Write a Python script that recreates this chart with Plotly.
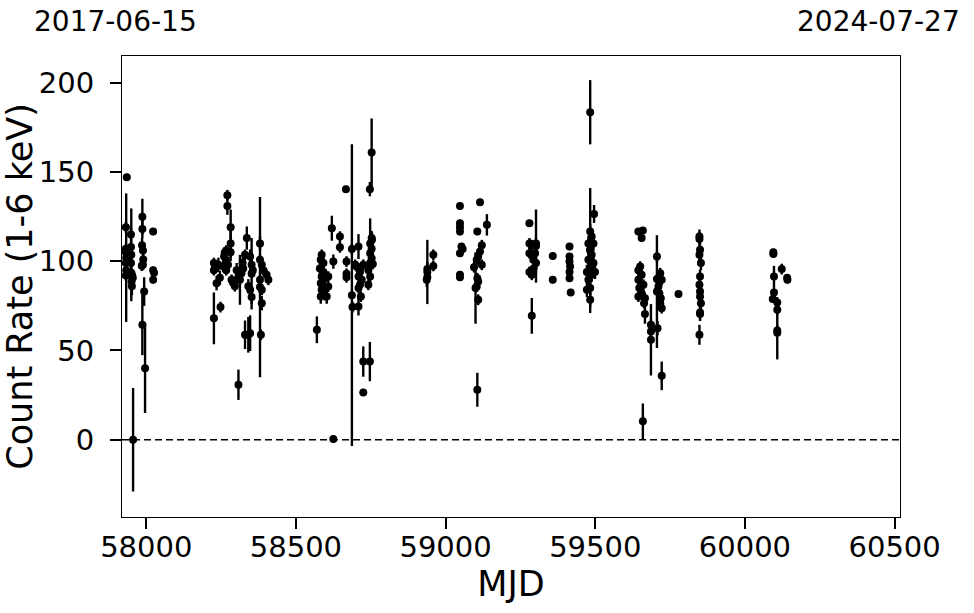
import plotly.graph_objects as go

# ---- data (MJD, count rate 1-6 keV, 1-sigma error), grouped by season ----
mjd_2017 = [57935, 57932, 57932, 57932, 57933, 57932, 57933, 57932,
            57949, 57949, 57950, 57949, 57950, 57951, 57952, 57955, 57953,
            57956,
            57987, 57987, 57986, 57989, 57990, 57989, 57985, 57993, 57987, 57996,
            58023, 58023, 58026, 58023]
rate_2017 = [147, 119, 107, 105, 102, 99, 95, 92,
             115, 108, 103.6, 99, 93.5, 88.6, 86, 90.7, 92,
             0,
             125, 118, 109, 106, 101, 98, 97.5, 83, 64.4, 40,
             116.6, 95, 93.5, 89.6]
err_2017 = [2, 3, 3, 3, 36, 3, 3, 3,
            4, 3, 26, 3, 3, 4, 5, 3, 3,
            29,
            10, 5, 4, 4, 4, 3, 3, 8, 17, 25,
            2, 2, 2, 2]

mjd_2018 = [58226, 58229, 58226, 58241, 58235, 58246, 58226, 58248,
            58271, 58271, 58282, 58282, 58282,
            58267, 58262, 58260, 58266, 58257, 58273, 58267, 58285, 58290, 58296,
            58302, 58308, 58313, 58318, 58324, 58322, 58336, 58330, 58347, 58352,
            58356, 58341, 58347, 58352, 58352,
            58330, 58341, 58347, 58308,
            58380, 58380, 58386, 58391, 58402, 58408, 58380, 58386, 58386, 58383, 58380]
rate_2018 = [99, 96, 95, 98, 87.7, 90.7, 68, 74.3,
             137, 131, 119, 110, 105,
             106, 104.7, 102.6, 100.8, 97, 98, 95, 89.6, 87.9, 86,
             95, 91.4, 89.6, 93.3, 96, 99, 113, 103.6, 102.6, 98,
             95, 86, 84, 80, 93,
             58.8, 58.8, 59.7, 30.8,
             110, 100.8, 98, 95, 92.4, 89.6, 89.6, 84, 76.5, 58.8, 85.5]
err_2018 = [3, 3, 3, 4, 4, 4, 14.5, 3,
            3, 5, 10, 8, 5,
            3, 3, 3, 3, 3, 3, 3, 3, 3, 3,
            4, 4, 14, 3, 3, 3, 6.5, 3, 4, 3,
            3, 4, 4, 4, 20,
            8, 10, 10, 8.5,
            4, 3, 3, 3, 3, 3, 3, 3, 4, 3, 50.5]

mjd_2019 = [58570,
            58586, 58583, 58592, 58580, 58592, 58586, 58597, 58583, 58592, 58586,
            58608, 58583, 58603, 58608, 58597,
            58620, 58625, 58647, 58647, 58667, 58669, 58669, 58669,
            58625,
            58687, 58687, 58689,
            58698, 58703, 58709, 58714, 58709, 58720, 58714, 58709, 58717, 58709,
            58725, 58725, 58725,
            58753, 58754, 58748, 58753, 58748, 58753, 58748, 58757, 58742, 58748,
            58742, 58747, 58753, 58747]
rate_2019 = [61.6,
             103.6, 100.8, 99, 96, 94, 91.4, 90.5, 87.7, 85.8, 84,
             85.8, 80.2, 80.2, 91.4, 84,
             118.5, 99.8, 113.8, 107.8, 140.4, 99.8, 93, 91,
             0.4,
             106.8, 81, 74.3,
             98, 97, 108.2, 94, 91.4, 89.6, 86.8, 85, 80.2, 74.6,
             98, 43.8, 26.5,
             113, 112, 110, 107, 104.5, 101.7, 99, 98.5, 95, 91.4,
             86.8, 140.4, 161, 43.8]
err_2019 = [7.5,
            3, 3, 3, 3, 3, 3, 3, 3, 3, 3,
            3, 4, 4, 3, 6,
            7, 4, 3, 3, 2, 3, 3, 3,
            2,
            3, 84.5, 3,
            3, 3, 7, 3, 3, 3, 3, 3, 3, 5,
            3, 8.5, 2,
            4, 4, 14, 4, 3, 3, 3, 3, 3, 3,
            3, 4, 19, 11]

mjd_2020 = [58939, 58939, 58937, 58959, 58959, 58939,
            59048, 59048, 59048, 59048, 59053, 59057, 59048, 59048, 59048,
            59115, 59106, 59138, 59121, 59115, 59109, 59121, 59095, 59104, 59106,
            59109, 59104, 59109, 59100, 59106]
rate_2020 = [95.6, 91, 89.6, 103.6, 97.4, 94,
             131, 121.3, 119, 116.6, 108.2, 106.8, 104.5, 91, 92.4,
             133, 116.6, 120.4, 109, 105.4, 102.6, 98, 96.7, 100.8, 90.5,
             88.6, 85.8, 78.4, 85, 28]
err_2020 = [4, 4, 4, 3, 3, 18,
            2, 2, 2, 2, 2, 2, 2, 2, 2,
            2, 2, 6, 3, 3, 3, 3, 3, 3, 3,
            3, 3, 3, 20, 9.5]

mjd_2021 = [59280, 59280, 59288, 59302, 59280, 59299, 59293, 59302, 59294, 59280,
            59288, 59293, 59302, 59288,
            59358, 59358,
            59414, 59414, 59414, 59416, 59414, 59414, 59418,
            59483, 59483, 59496, 59483, 59488, 59477, 59494, 59483, 59488, 59477,
            59494, 59483, 59472, 59499, 59488, 59477, 59483, 59472, 59483]
rate_2021 = [121.3, 110, 109, 110, 104.5, 104.5, 100.8, 99, 96, 94,
             92.4, 94, 108.5, 69.4,
             103, 89.6,
             108.2, 102.6, 99.8, 97, 94, 90.5, 82.5,
             183.5, 106, 126.5, 116.6, 113.8, 110, 110, 106.4, 103.6, 100.8,
             99, 96, 94, 94, 92.4, 89.6, 85, 84, 78.4]
err_2021 = [2, 3, 3, 3, 3, 3, 3, 3, 3, 3,
            3, 3, 20.5, 10,
            2, 2,
            2, 2, 2, 2, 2, 2, 2,
            18, 35, 5, 4, 4, 4, 4, 4, 4, 4,
            4, 4, 4, 4, 4, 4, 4, 4, 4]

mjd_2022 = [59644, 59659, 59655,
            59650, 59644, 59655, 59644, 59661, 59647, 59655, 59666, 59644, 59663, 59666,
            59686, 59686, 59686,
            59659,
            59706, 59706, 59717, 59711, 59722, 59714, 59719, 59717, 59722, 59706, 59708, 59722,
            59778,
            59848, 59848, 59850, 59848, 59853, 59850, 59848, 59850, 59850, 59853, 59850,
            59850, 59848]
rate_2022 = [116.6, 117.2, 113,
             97, 95, 92.4, 89.6, 86.8, 85, 82, 79.3, 80.2, 76.5, 70.5,
             64.4, 60.6, 56,
             10.3,
             102.6, 90, 93.3, 85.8, 89.6, 82, 79.3, 76.5, 73.7, 83, 62.5, 35.8,
             81.7,
             113.8, 112.4, 106.4, 103.6, 99, 91.4, 86.8, 83, 80.2, 76.5, 71.3,
             70.5, 58.8]
err_2022 = [2, 2, 2,
            3, 3, 3, 3, 3, 3, 3, 3, 3, 3, 5.5,
            3, 3, 20,
            10,
            3, 3, 3, 3, 3, 3, 3, 3, 3, 31.6, 4, 8,
            2,
            4, 4, 4, 4, 4, 4, 4, 4, 4, 4, 4,
            4, 5.6]

mjd_2023 = [60095, 60095, 60123, 60097, 60142, 60141, 60097, 60093, 60108, 60108,
            60108, 60108]
rate_2023 = [105, 104, 95.6, 91.4, 89.6, 90.7, 82.5, 78.8, 76.9, 72.8,
             61.2, 60]
err_2023 = [2, 2, 3, 6, 2, 2, 3, 2, 3, 3,
            3, 15]

x_range = [57919, 60518]          # 2017-06-15 .. 2024-07-27
y_range = [-43.3, 215.0]
x_ticks = [58000, 58500, 59000, 59500, 60000, 60500]
y_ticks = [0, 50, 100, 150, 200]
start_label = "2017-06-15"
end_label = "2024-07-27"

mjd = mjd_2017 + mjd_2018 + mjd_2019 + mjd_2020 + mjd_2021 + mjd_2022 + mjd_2023
rate = rate_2017 + rate_2018 + rate_2019 + rate_2020 + rate_2021 + rate_2022 + rate_2023
err = err_2017 + err_2018 + err_2019 + err_2020 + err_2021 + err_2022 + err_2023

FONT = "DejaVu Sans"

fig = go.Figure()
fig.add_trace(go.Scatter(
    x=mjd, y=rate, mode="markers",
    marker=dict(color="black", size=8),
    error_y=dict(type="data", array=err, visible=True, color="black",
                 thickness=2.4, width=0),
    showlegend=False,
))

fig.add_shape(type="line", xref="paper", yref="y", x0=0, x1=1, y0=0, y1=0,
              line=dict(color="black", width=1.5, dash="7px,4px"))

fig.add_annotation(text=start_label, xref="paper", yref="paper",
                   x=(32 - 122) / 778, y=(517 - 22) / 461,
                   xanchor="left", yanchor="middle", showarrow=False,
                   font=dict(family=FONT, size=28, color="black"))
fig.add_annotation(text=end_label, xref="paper", yref="paper",
                   x=(962 - 122) / 778, y=(517 - 22) / 461,
                   xanchor="right", yanchor="middle", showarrow=False,
                   font=dict(family=FONT, size=28, color="black"))

axis_common = dict(
    showgrid=False, zeroline=False, showline=True, linecolor="black",
    linewidth=1, mirror=True, ticks="outside", ticklen=11, tickwidth=2,
    tickcolor="black", tickfont=dict(family=FONT, size=29, color="black"),
    automargin=False,
)

fig.update_layout(
    width=974, height=613,
    margin=dict(l=122, r=74, t=56, b=96),
    paper_bgcolor="white", plot_bgcolor="white",
    font=dict(family=FONT, color="black"),
    xaxis=dict(range=x_range, tickvals=x_ticks, ticktext=[str(v) for v in x_ticks],
               title=dict(text="MJD", font=dict(family=FONT, size=35), standoff=0),
               ticklabelstandoff=-7, **axis_common),
    yaxis=dict(range=y_range, tickvals=y_ticks, ticktext=[str(v) for v in y_ticks],
               title=dict(text="Count Rate (1-6 keV)", font=dict(family=FONT, size=35),
                          standoff=6),
               ticklabelstandoff=10, **axis_common),
)

fig.write_html("out.html", config={"displayModeBar": False},
               post_script="document.body.style.margin='0';")
